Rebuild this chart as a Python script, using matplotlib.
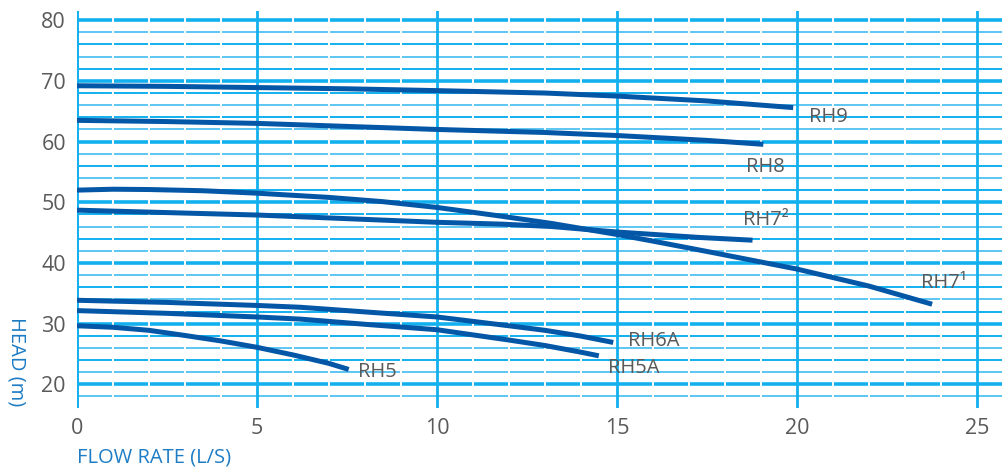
import numpy as np
import matplotlib.pyplot as plt

plt.rcParams['font.family'] = ['Open Sans', 'DejaVu Sans']

# pump curves: flow rate (L/S) vs head (m)
rh9_x = [0, 2.5, 5, 7.5, 10, 13, 15, 17.5, 19.9]
rh9_y = [69.2, 69.1, 68.9, 68.7, 68.4, 68.0, 67.5, 66.7, 65.6]
rh8_x = [0, 2.5, 5, 7.5, 10, 13, 15, 17.5, 19.07]
rh8_y = [63.5, 63.3, 63.0, 62.5, 62.0, 61.5, 61.0, 60.2, 59.55]
rh72_x = [0, 2.5, 5, 7.5, 10, 11.8, 13.2, 15, 17.3, 18.77]
rh72_y = [48.7, 48.3, 47.9, 47.3, 46.7, 46.4, 46.0, 45.1, 44.2, 43.75]
rh71_x = [0, 1, 2, 3.5, 5, 7, 8.5, 10, 11.8, 13.2, 15, 16, 17.5, 20, 22, 23.76]
rh71_y = [52.0, 52.15, 52.1, 51.9, 51.5, 50.8, 50.1, 49.15, 47.7, 46.5, 44.7, 43.6, 41.9, 39.0, 36.2, 33.2]
rh6a_x = [0, 2.5, 5, 6.2, 8.2, 10, 12, 13, 14, 14.9]
rh6a_y = [33.85, 33.5, 33.0, 32.7, 31.85, 31.1, 29.65, 28.9, 27.95, 26.9]
rh5a_x = [0, 2.5, 5, 6.2, 8.2, 10, 12, 13, 14, 14.5]
rh5a_y = [32.15, 31.7, 31.1, 30.75, 29.8, 29.0, 27.3, 26.4, 25.3, 24.7]
rh5_x = [0, 1, 2, 3, 4, 5, 6, 7, 7.55]
rh5_y = [29.65, 29.4, 28.9, 28.05, 27.15, 26.1, 24.85, 23.45, 22.45]

curves = [(rh9_x, rh9_y), (rh8_x, rh8_y), (rh72_x, rh72_y), (rh71_x, rh71_y),
          (rh6a_x, rh6a_y), (rh5a_x, rh5a_y), (rh5_x, rh5_y)]

# label text and anchor (left, centre)
labels = ['RH9', 'RH8', 'RH7²', 'RH7¹', 'RH6A', 'RH5A', 'RH5']
label_x = [20.33, 18.58, 18.5, 23.45, 15.3, 14.76, 7.8]
label_y = [64.0, 55.8, 47.0, 36.7, 27.2, 22.7, 22.0]

x_ticks = [0, 5, 10, 15, 20, 25]
y_ticks = [20, 30, 40, 50, 60, 70, 80]

cyan = '#12B0EE'
cyan_light = '#5CC6F2'
dark = '#0457A6'
grey = '#5a5a5a'
blue_txt = '#1C7CC4'

fig = plt.figure(figsize=(10.03, 4.70), dpi=100)
ax = fig.add_axes([77 / 1003, 1 - 408 / 470, 1 - 77 / 1003, (408 - 10.5) / 470])
ax.set_xlim(0, 25.73)
ax.set_ylim(16.1, 81.6)

# horizontal grid, every 2 m, heavier every 10 m
for h in range(18, 81, 2):
    if h % 10 == 0:
        ax.axhline(h, color=cyan, lw=2.6, zorder=1)
    else:
        ax.axhline(h, color=cyan if h % 4 == 0 else cyan_light, lw=1.4, zorder=1)

# small white breaks at each whole L/S
for v in range(1, 26):
    if v % 5:
        ax.axvline(v, color='white', lw=1.4, zorder=1.5)

# vertical grid
for v in x_ticks:
    ax.axvline(v, color=cyan, lw=2.0, zorder=2)
ax.axvline(0, color=cyan, lw=2.6, zorder=2)

for cx, cy in curves:
    ax.plot(cx, cy, color=dark, lw=3.6, solid_capstyle='butt', solid_joinstyle='round', zorder=3)

for t, lx, ly in zip(labels, label_x, label_y):
    ax.text(lx, ly, t, color=grey, fontsize=14.5, ha='left', va='center', zorder=4)

for s in ax.spines.values():
    s.set_visible(False)
ax.set_xticks(x_ticks)
ax.set_yticks(y_ticks)
ax.tick_params(length=0, labelsize=15.5, labelcolor=grey)
ax.tick_params(axis='x', pad=7)
ax.tick_params(axis='y', pad=8)

fig.text(77 / 1003, 1 - 458 / 470, 'FLOW RATE (L/S)', color=blue_txt, fontsize=14.5,
         ha='left', va='center')
fig.text(16 / 1003, 1 - 362 / 470, 'HEAD (m)', color=blue_txt, fontsize=14.5,
         ha='center', va='center', rotation=270)

fig.savefig('out.png', dpi=100)
